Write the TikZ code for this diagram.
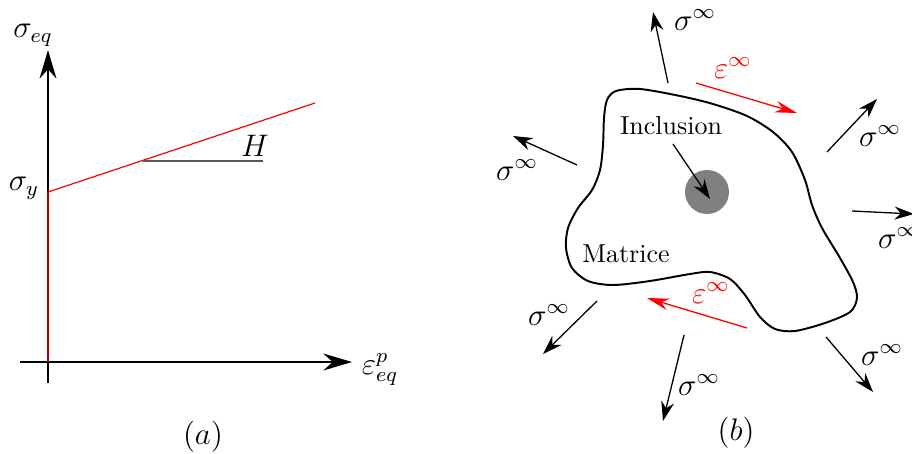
\documentclass[tikz,border=0pt]{standalone}
\usetikzlibrary{arrows.meta}
\begin{document}
\begin{tikzpicture}[x=0.385pt,y=-0.385pt,
  axis/.style={line width=0.8pt,-{Stealth[length=11pt,width=6.5pt]}},
  sig/.style={line width=0.5pt,-{Stealth[length=7.5pt,width=5pt]}},
  eps/.style={red,line width=0.5pt,-{Stealth[length=8.5pt,width=4.5pt]}},
  lab/.style={inner sep=0pt,font=\large},
  txt/.style={inner sep=0pt}]
\clip (0,0) rectangle (912,453);
% ---------- (a)
\coordinate (yb) at (48,383);
\coordinate (yt) at (48,50);
\coordinate (xl) at (20,362);
\coordinate (xr) at (352,362);
\coordinate (o) at (48,362);
\coordinate (sy) at (48,192);
\coordinate (e) at (315,103);
\coordinate (h1) at (143,161);
\coordinate (h2) at (263,161);
\draw[axis] (yb) -- (yt);
\draw[axis] (xl) -- (xr);
\draw[red,line width=0.45pt] (o) -- (sy) -- (e);
\draw[gray!70!black,line width=0.45pt] (h1) -- (h2);
\node[lab] (H) at (255,146) {$H$};
\node[lab] (seq) at (33,35) {$\sigma_{eq}$};
\node[lab] (sy lab) at (24,188) {$\sigma_y$};
\node[lab] (epq) at (380,370) {$\varepsilon_{eq}^{p}$};
\node[lab] (a) at (203,437) {$(a)$};
% ---------- (b)
\draw[line width=0.75pt] plot[smooth cycle] coordinates {
(607,100) (616,91) (640,89) (680,96) (713,104) (747,116) (773,132)
(792,152) (805,180) (812,205) (822,228) (840,258) (853,282) (857,298)
(850,312) (825,323) (795,331) (775,329) (760,317) (745,295) (730,279)
(710,272) (690,274) (650,281) (613,285) (588,281) (572,268) (566,248)
(568,228) (578,208) (592,190) (600,170) (603,145) (604,118)};
\node[circle,fill=black!50,minimum size=44*0.385pt,inner sep=0pt] (inc) at (707,192) {};
\node[txt] (inclab) at (671,126) {Inclusion};
\node[txt] (mat) at (626,254) {Matrice};
\coordinate (ia) at (673,144);
\coordinate (ib) at (710,199);
\draw[sig] (ia) -- (ib);
% sigma arrows
\coordinate (s1a) at (668,83);  \coordinate (s1b) at (653,12);
\coordinate (s2a) at (827,152); \coordinate (s2b) at (877,99);
\coordinate (s3a) at (852,211); \coordinate (s3b) at (914,214);
\coordinate (s4a) at (826,337); \coordinate (s4b) at (873,392);
\coordinate (s5a) at (684,335); \coordinate (s5b) at (663,421);
\coordinate (s6a) at (597,301); \coordinate (s6b) at (543,354);
\coordinate (s7a) at (577,165); \coordinate (s7b) at (513,136);
\foreach \i in {1,...,7} {\draw[sig] (s\i a) -- (s\i b);}
\node[lab] (l1) at (695,20) {$\sigma^{\infty}$};
\node[lab] (l2) at (880,136) {$\sigma^{\infty}$};
\node[lab] (l3) at (899,238) {$\sigma^{\infty}$};
\node[lab] (l4) at (882,355) {$\sigma^{\infty}$};
\node[lab] (l5) at (699,385) {$\sigma^{\infty}$};
\node[lab] (l6) at (549,315) {$\sigma^{\infty}$};
\node[lab] (l7) at (517,170) {$\sigma^{\infty}$};
% epsilon arrows
\coordinate (e1a) at (696,83);  \coordinate (e1b) at (797,113);
\coordinate (e2a) at (747,328); \coordinate (e2b) at (647,298);
\draw[eps] (e1a) -- (e1b);
\draw[eps] (e2a) -- (e2b);
\node[lab,red] (el1) at (733,68) {$\varepsilon^{\infty}$};
\node[lab,red] (el2) at (711,293) {$\varepsilon^{\infty}$};
\node[lab] (b) at (736,433) {$(b)$};
\end{tikzpicture}
\end{document}
